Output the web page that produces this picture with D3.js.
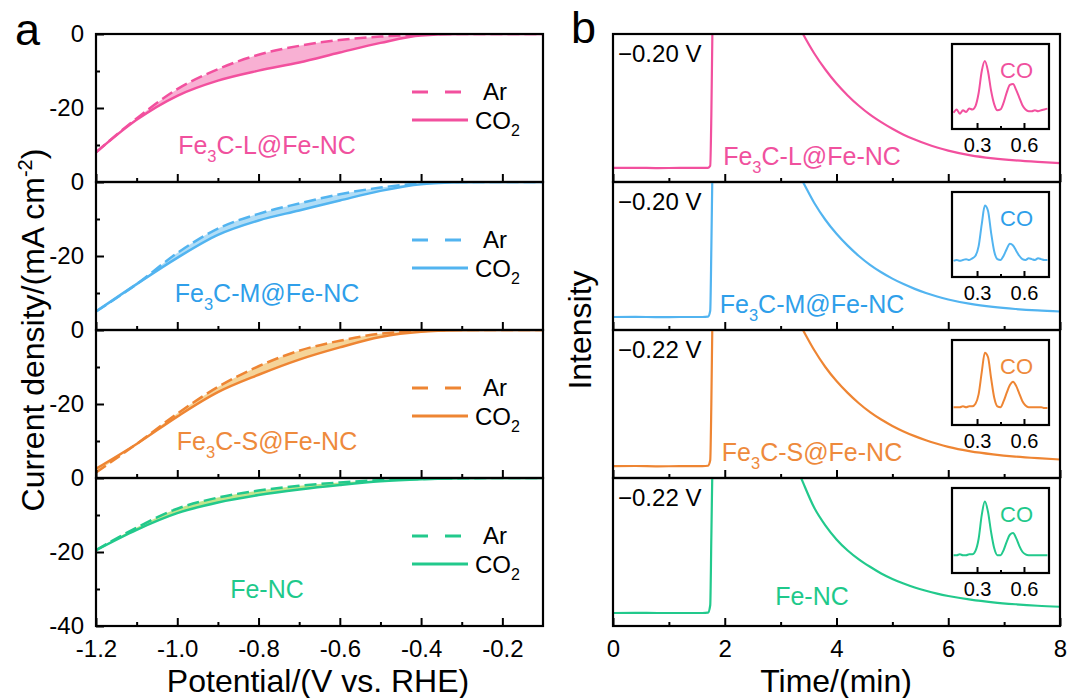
<!DOCTYPE html>
<html><head><meta charset="utf-8">
<script src="https://cdn.jsdelivr.net/npm/d3@7"></script>
<style>
body{margin:0;background:#fff}
svg{display:block}
text{font-family:"Liberation Sans",Arial,Helvetica,sans-serif}
</style>
</head><body>
<svg id="chart" width="1067" height="698"></svg>
<script>
// ---------------- DATA ----------------
const sampleNames = ["Fe3C-L@Fe-NC", "Fe3C-M@Fe-NC", "Fe3C-S@Fe-NC", "Fe-NC"];
const lineColors = ["#F2509E", "#52B4F0", "#EE8533", "#22C98C"];
const fillColors = ["#F7A7CE", "#A9D9F5", "#F4CF8E", "#B9E27F"];
const labelColors = ["#F0519E", "#2F9FEA", "#EE8A3C", "#1EC98B"];
const voltages = ["\u22120.20 V", "\u22120.20 V", "\u22120.22 V", "\u22120.22 V"];

// panel a: LSV curves (potential in V vs RHE, current density mA cm-2)
const potential = [-1.2, -1.1, -1.0, -0.9, -0.8, -0.7, -0.6, -0.5, -0.4, -0.3, -0.2, -0.1];
const jAr_L  = [-32.0, -22.8, -14.9, -9.5, -5.6, -3.2, -1.6, -0.7, -0.2, 0, 0, 0];
const jCO2_L = [-32.0, -23.2, -16.7, -12.6, -9.9, -7.7, -5.0, -2.4, -0.4, 0, 0, 0];
const jAr_M  = [-35.0, -27.6, -19.2, -12.6, -8.6, -5.8, -3.3, -1.5, -0.4, 0, 0, 0];
const jCO2_M = [-35.0, -27.6, -20.5, -14.3, -10.4, -7.7, -5.0, -2.4, -0.6, -0.1, 0, 0];
const jAr_S  = [-38.5, -30.8, -22.6, -15.4, -9.8, -5.6, -2.9, -1.0, -0.3, 0, 0, 0];
const jCO2_S = [-37.5, -30.8, -23.4, -16.8, -12.1, -8.0, -4.7, -1.9, -0.5, -0.1, 0, 0];
const jAr_N  = [-19.5, -13.4, -8.3, -5.3, -3.4, -2.1, -1.2, -0.6, -0.25, -0.1, 0, 0];
const jCO2_N = [-19.5, -14.0, -9.5, -6.6, -4.6, -3.1, -1.9, -0.9, -0.35, -0.1, 0, 0];

const xTicksA = [-1.2, -1.0, -0.8, -0.6, -0.4, -0.2];
const xMinorA = [-1.1, -0.9, -0.7, -0.5, -0.3];
const yTicksA = [0, -20, -40];
const yMinorA = [-10, -30];

// panel b: intensity vs time (normalised, 1 = top of sub-panel)
const timeB = [0, 0.4, 0.8, 1.2, 1.6, 1.70, 1.74, 1.76, 1.78, 1.80, 1.9, 2.5, 3.0, 3.3,
  3.4, 3.6, 3.8, 4.0, 4.2, 4.4, 4.6, 4.8, 5.0, 5.2, 5.4, 5.6, 5.8, 6.0, 6.4, 6.8, 7.2, 7.6, 8.0];
const int_L = [0.095, 0.096, 0.094, 0.095, 0.095, 0.096, 0.11, 0.45, 1.05, 1.5, 2.0, 1.8, 1.3, 1.07,
  1.0, 0.87, 0.76, 0.665, 0.585, 0.515, 0.455, 0.405, 0.36, 0.32, 0.287, 0.258, 0.233, 0.212, 0.18, 0.16, 0.146, 0.136, 0.128];
const int_M = [0.088, 0.089, 0.087, 0.088, 0.088, 0.09, 0.13, 0.55, 1.1, 1.5, 2.0, 1.8, 1.3, 1.07,
  1.0, 0.86, 0.745, 0.65, 0.57, 0.50, 0.44, 0.39, 0.347, 0.31, 0.278, 0.25, 0.226, 0.206, 0.176, 0.156, 0.142, 0.132, 0.125];
const int_S = [0.08, 0.081, 0.079, 0.08, 0.08, 0.083, 0.12, 0.5, 1.1, 1.5, 2.0, 1.8, 1.3, 1.07,
  1.0, 0.865, 0.75, 0.655, 0.575, 0.505, 0.445, 0.395, 0.352, 0.315, 0.283, 0.255, 0.231, 0.21, 0.18, 0.16, 0.145, 0.134, 0.125];
const int_N = [0.088, 0.089, 0.088, 0.088, 0.088, 0.09, 0.14, 0.6, 1.1, 1.5, 2.0, 1.85, 1.35, 1.06,
  0.97, 0.80, 0.68, 0.585, 0.51, 0.45, 0.40, 0.355, 0.318, 0.287, 0.26, 0.238, 0.219, 0.203, 0.178, 0.16, 0.147, 0.137, 0.13];

const xTicksB = [0, 2, 4, 6, 8];
const xMinorB = [1, 3, 5, 7];

// insets: GC trace (retention time, normalised signal)
const rt = [0.15,0.17,0.19,0.21,0.23,0.25,0.27,0.29,0.31,0.33,0.35,0.37,0.39,0.41,0.43,0.45,
  0.47,0.49,0.51,0.53,0.55,0.57,0.59,0.61,0.63,0.65,0.67,0.69,0.71,0.73,0.75];
const gc_L = [0.19,0.23,0.18,0.22,0.20,0.24,0.23,0.27,0.42,0.68,0.80,0.68,0.45,0.29,0.22,0.23,
  0.31,0.43,0.52,0.53,0.46,0.37,0.28,0.23,0.21,0.21,0.22,0.21,0.22,0.23,0.24];
const gc_M = [0.19,0.20,0.19,0.20,0.21,0.20,0.22,0.25,0.36,0.62,0.84,0.78,0.52,0.30,0.21,0.20,
  0.25,0.33,0.39,0.37,0.31,0.25,0.21,0.20,0.22,0.21,0.20,0.22,0.21,0.20,0.20];
const gc_S = [0.21,0.21,0.21,0.22,0.21,0.22,0.22,0.25,0.36,0.62,0.85,0.80,0.55,0.32,0.22,0.21,
  0.28,0.38,0.47,0.51,0.46,0.37,0.28,0.23,0.21,0.21,0.21,0.21,0.21,0.20,0.20];
const gc_N = [0.21,0.21,0.22,0.21,0.21,0.22,0.22,0.26,0.40,0.68,0.84,0.72,0.48,0.29,0.21,0.21,
  0.27,0.37,0.45,0.47,0.41,0.32,0.25,0.22,0.21,0.21,0.21,0.21,0.21,0.21,0.21];
const insetTicks = [0.3, 0.6];
const insetMinor = [0.45];

const arSeries = [jAr_L, jAr_M, jAr_S, jAr_N];
const co2Series = [jCO2_L, jCO2_M, jCO2_S, jCO2_N];
const intSeries = [int_L, int_M, int_S, int_N];
const gcSeries = [gc_L, gc_M, gc_S, gc_N];

// ---------------- LAYOUT ----------------
const svg = d3.select("#chart");
const FONT = '"Liberation Sans",Arial,Helvetica,sans-serif';
const top0 = 34, subH = 148;
const A = {x0: 96, x1: 543};
const B = {x0: 613, x1: 1060};
const xA = d3.scaleLinear().domain([-1.2, -0.1]).range([A.x0, A.x1]);
const xB = d3.scaleLinear().domain([0, 8]).range([B.x0, B.x1]);
const fmt1 = d => d.toFixed(1);

function addLabel(g, name, x, y, size, color, anchor) {
  const t = g.append("text").attr("x", x).attr("y", y).attr("font-size", size)
    .attr("fill", color).attr("text-anchor", anchor || "middle");
  const m = name.match(/^(Fe)3(.*)$/);
  if (m) {
    t.append("tspan").text(m[1]);
    t.append("tspan").text("3").attr("font-size", size * 0.66).attr("dy", size * 0.3);
    t.append("tspan").text(m[2]).attr("dy", -size * 0.3);
  } else t.text(name);
  return t;
}
function styleAxis(g, size) {
  g.select(".domain").remove();
  g.selectAll("line").attr("stroke", "#000").attr("stroke-width", 2);
  g.selectAll("text").attr("font-size", size).attr("font-family", FONT).attr("fill", "#000");
}

const defs = svg.append("defs");

for (let i = 0; i < 4; i++) {
  const yt = top0 + i * subH, yb = yt + subH;
  // ---------- panel a ----------
  const yA = d3.scaleLinear().domain([-40, 0]).range([yb, yt]);
  defs.append("clipPath").attr("id", "ca" + i).append("rect")
    .attr("x", A.x0).attr("y", yt).attr("width", A.x1 - A.x0).attr("height", subH);
  const ga = svg.append("g");
  const pts = potential.map((p, k) => ({p, ar: arSeries[i][k], co: co2Series[i][k]}));
  const cg = ga.append("g").attr("clip-path", `url(#ca${i})`);
  cg.append("path").datum(pts).attr("fill", fillColors[i]).attr("opacity", 0.9)
    .attr("d", d3.area().curve(d3.curveMonotoneX).x(d => xA(d.p)).y0(d => yA(d.ar)).y1(d => yA(d.co)));
  cg.append("path").datum(pts).attr("fill", "none").attr("stroke", lineColors[i]).attr("stroke-width", 2.5)
    .attr("d", d3.line().curve(d3.curveMonotoneX).x(d => xA(d.p)).y(d => yA(d.co)));
  cg.append("path").datum(pts).attr("fill", "none").attr("stroke", lineColors[i]).attr("stroke-width", 2.5)
    .attr("stroke-dasharray", "12,5")
    .attr("d", d3.line().curve(d3.curveMonotoneX).x(d => xA(d.p)).y(d => yA(d.ar)));

  // axes a
  const axB = ga.append("g").attr("transform", `translate(0,${yb})`)
    .call(d3.axisBottom(xA).tickValues(xTicksA).tickSizeInner(-8).tickSizeOuter(0).tickPadding(14)
      .tickFormat(i === 3 ? fmt1 : () => ""));
  styleAxis(axB, 24);
  const axBm = ga.append("g").attr("transform", `translate(0,${yb})`)
    .call(d3.axisBottom(xA).tickValues(xMinorA).tickSizeInner(-4).tickSizeOuter(0).tickFormat(() => ""));
  styleAxis(axBm, 24);
  const axL = ga.append("g").attr("transform", `translate(${A.x0},0)`)
    .call(d3.axisLeft(yA).tickValues(i === 3 ? yTicksA : [0, -20]).tickSizeInner(-8).tickSizeOuter(0).tickPadding(12)
      .tickFormat(d => String(d)));
  styleAxis(axL, 24);
  const axLm = ga.append("g").attr("transform", `translate(${A.x0},0)`)
    .call(d3.axisLeft(yA).tickValues(yMinorA).tickSizeInner(-4).tickSizeOuter(0).tickFormat(() => ""));
  styleAxis(axLm, 24);
  ga.append("rect").attr("x", A.x0).attr("y", yt).attr("width", A.x1 - A.x0).attr("height", subH)
    .attr("fill", "none").attr("stroke", "#000").attr("stroke-width", 2.2);

  // legend a
  ga.append("line").attr("x1", 412).attr("x2", 466).attr("y1", yt + 58).attr("y2", yt + 58)
    .attr("stroke", lineColors[i]).attr("stroke-width", 3).attr("stroke-dasharray", "16,17");
  ga.append("line").attr("x1", 412).attr("x2", 468).attr("y1", yt + 86).attr("y2", yt + 86)
    .attr("stroke", lineColors[i]).attr("stroke-width", 3);
  ga.append("text").attr("x", 483).attr("y", yt + 66).attr("font-size", 24).text("Ar");
  const co = ga.append("text").attr("x", 475).attr("y", yt + 95).attr("font-size", 24);
  co.append("tspan").text("CO");
  co.append("tspan").text("2").attr("font-size", 16).attr("dy", 7);
  addLabel(ga, sampleNames[i], 267, yt + 120, 25, labelColors[i]);

  // ---------- panel b ----------
  const yB = d3.scaleLinear().domain([0, 1]).range([yb, yt]);
  defs.append("clipPath").attr("id", "cb" + i).append("rect")
    .attr("x", B.x0).attr("y", yt).attr("width", B.x1 - B.x0).attr("height", subH);
  const gb = svg.append("g");
  const tp = timeB.map((t, k) => ({t, v: intSeries[i][k]}));
  gb.append("g").attr("clip-path", `url(#cb${i})`).append("path").datum(tp)
    .attr("fill", "none").attr("stroke", lineColors[i]).attr("stroke-width", 2.2)
    .attr("d", d3.line().curve(d3.curveMonotoneX).x(d => xB(d.t)).y(d => yB(d.v)));
  const bxB = gb.append("g").attr("transform", `translate(0,${yb})`)
    .call(d3.axisBottom(xB).tickValues(xTicksB).tickSizeInner(-8).tickSizeOuter(0).tickPadding(14)
      .tickFormat(i === 3 ? d => String(d) : () => ""));
  styleAxis(bxB, 24);
  const bxBm = gb.append("g").attr("transform", `translate(0,${yb})`)
    .call(d3.axisBottom(xB).tickValues(xMinorB).tickSizeInner(-4).tickSizeOuter(0).tickFormat(() => ""));
  styleAxis(bxBm, 24);
  gb.append("rect").attr("x", B.x0).attr("y", yt).attr("width", B.x1 - B.x0).attr("height", subH)
    .attr("fill", "none").attr("stroke", "#000").attr("stroke-width", 2.2);
  gb.append("text").attr("x", 618).attr("y", yt + 28).attr("font-size", 24).text(voltages[i]);
  addLabel(gb, sampleNames[i], 812, yt + (i === 3 ? 127 : 131), 25, labelColors[i]);

  // inset
  const ix0 = 952, ix1 = 1049, iy0 = yt + 10, iy1 = yt + 95;
  const xI = d3.scaleLinear().domain([0.14, 0.76]).range([ix0, ix1]);
  const yI = d3.scaleLinear().domain([0, 1]).range([iy1, iy0]);
  const gi = gb.append("g");
  gi.append("rect").attr("x", ix0).attr("y", iy0).attr("width", ix1 - ix0).attr("height", iy1 - iy0)
    .attr("fill", "#fff");
  gi.append("path").datum(rt.map((r, k) => ({r, v: gcSeries[i][k]})))
    .attr("fill", "none").attr("stroke", lineColors[i]).attr("stroke-width", 2)
    .attr("d", d3.line().curve(d3.curveMonotoneX).x(d => xI(d.r)).y(d => yI(d.v)));
  const iax = gi.append("g").attr("transform", `translate(0,${iy1})`)
    .call(d3.axisBottom(xI).tickValues(insetTicks).tickSizeInner(-6).tickSizeOuter(0).tickPadding(9)
      .tickFormat(d => d.toFixed(1)));
  styleAxis(iax, 20);
  const iaxm = gi.append("g").attr("transform", `translate(0,${iy1})`)
    .call(d3.axisBottom(xI).tickValues(insetMinor).tickSizeInner(-3).tickSizeOuter(0).tickFormat(() => ""));
  styleAxis(iaxm, 20);
  gi.append("rect").attr("x", ix0).attr("y", iy0).attr("width", ix1 - ix0).attr("height", iy1 - iy0)
    .attr("fill", "none").attr("stroke", "#000").attr("stroke-width", 2.2);
  gi.append("text").attr("x", ix0 + 48).attr("y", iy0 + 34).attr("font-size", 22)
    .attr("fill", labelColors[i]).text("CO");
}

// panel letters & titles
svg.append("text").attr("x", 15).attr("y", 45).attr("font-size", 45).text("a");
svg.append("text").attr("x", 571).attr("y", 43).attr("font-size", 45).text("b");
svg.append("text").attr("x", 318).attr("y", 692).attr("font-size", 32).attr("text-anchor", "middle")
  .text("Potential/(V vs. RHE)");
svg.append("text").attr("x", 836).attr("y", 692).attr("font-size", 32).attr("text-anchor", "middle")
  .text("Time/(min)");
const yl = svg.append("text").attr("transform", "translate(44,330) rotate(-90)")
  .attr("font-size", 32).attr("text-anchor", "middle");
yl.append("tspan").text("Current density/(mA cm");
yl.append("tspan").text("-2").attr("font-size", 20).attr("dy", -12);
yl.append("tspan").text(")").attr("dy", 12);
svg.append("text").attr("transform", "translate(591,330) rotate(-90)")
  .attr("font-size", 32).attr("text-anchor", "middle").text("Intensity");
</script>
</body></html>
